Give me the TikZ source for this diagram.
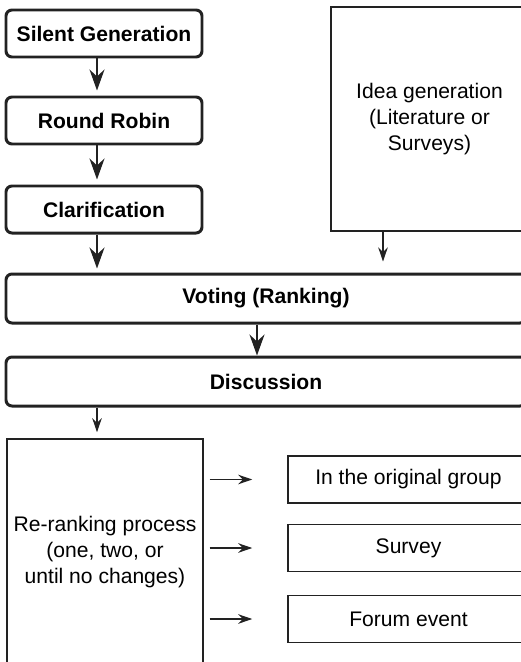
\documentclass[tikz,border=0pt]{standalone}
\usepackage{fontspec}
\setmainfont{Liberation Sans}
\usepackage{tikz}
\usetikzlibrary{arrows.meta, positioning, calc}
\definecolor{InkGray}{RGB}{34,34,34}

\begin{document}
\begin{tikzpicture}[
	font=\fontsize{12}{14.8}\selectfont,
	stage/.style={draw=InkGray,line width=1.7pt,rounded corners=0.12cm,minimum height=0.94cm,inner sep=0pt,font=\fontsize{12}{14.8}\selectfont\bfseries},
	plain/.style={draw=InkGray,line width=0.85pt,inner sep=0pt,align=center},
	bigarr/.style={-{Stealth[length=0.42cm,width=0.3cm,inset=0.14cm]},line width=1.5pt,draw=InkGray},
	smallarr/.style={-{Stealth[length=0.28cm,width=0.19cm]},line width=0.8pt,draw=InkGray}]
\clip (0,0) rectangle (10.42,-13.24);
% nominal group steps
\node[stage,minimum width=3.92cm] (sil) at (2.08,-0.67) {Silent Generation};
\node[stage,minimum width=3.92cm] (rr) at (2.08,-2.41) {Round Robin};
\node[stage,minimum width=3.92cm] (clar) at (2.08,-4.19) {Clarification};
\node[plain,minimum width=3.94cm,minimum height=4.48cm] (idea) at (8.59,-2.38) {Idea generation\\(Literature or\\Surveys)};
\node[stage,minimum width=10.4cm,minimum height=0.98cm] (vote) at (5.32,-5.97) {Voting (Ranking)};
\node[stage,minimum width=10.4cm,minimum height=0.98cm] (disc) at (5.32,-7.63) {Discussion};
% re-ranking
\node[plain,minimum width=3.92cm,minimum height=4.52cm] (rerank) at (2.1,-11.04) {Re-ranking process\\(one, two, or\\until no changes)};
\foreach \n/\y/\t in {og/-9.59/In the original group,sv/-10.96/Survey,fe/-12.38/Forum event}
	\node[plain,minimum width=4.82cm,minimum height=0.94cm] (\n) at (8.17,\y) {\t};
% connections
\draw[bigarr,shorten >=0.1cm] ([xshift=-0.14cm]sil.south) -- ([xshift=-0.14cm]rr.north);
\draw[bigarr,shorten >=0.1cm] ([xshift=-0.14cm]rr.south) -- ([xshift=-0.14cm]clar.north);
\draw[bigarr,shorten >=0.08cm] ([xshift=-0.14cm]clar.south) -- ([xshift=-0.14cm]clar.south |- vote.north);
\draw[smallarr,shorten >=0.22cm] ([xshift=-0.93cm]idea.south) -- ([xshift=-0.93cm]idea.south |- vote.north);
\draw[bigarr] ([xshift=-0.18cm]vote.south) -- ([xshift=-0.18cm]disc.north);
\draw[smallarr,shorten >=0.12cm] ([xshift=-0.16cm]rerank.north |- disc.south) -- ([xshift=-0.16cm]rerank.north);
\foreach \n in {og,sv,fe}
	\draw[smallarr,shorten <=0.12cm,shorten >=0.7cm] (rerank.east |- \n.west) -- (\n.west);
\end{tikzpicture}
\end{document}
